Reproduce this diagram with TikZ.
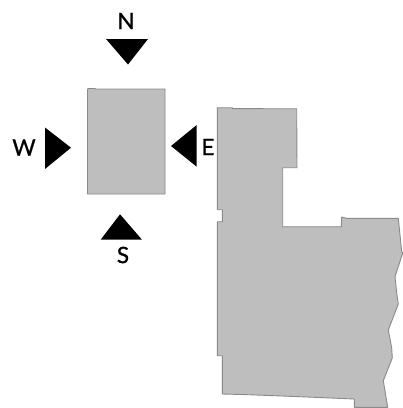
\documentclass[tikz,border=0pt]{standalone}
\usepackage{fontspec}
\newfontfamily\compassfont[FakeBold=1.0]{Lato}
\definecolor{plan}{HTML}{BEBEBE}
\definecolor{planedge}{HTML}{8A8A8A}
\tikzset{
  planshape/.style={fill=plan,draw=planedge,line width=0.9pt,line join=round},
  pointer/.style={fill=black,draw=none},
  compass/.style={inner sep=0pt,font=\compassfont\fontsize{22.5}{22.5}\selectfont,text=black}
}
\begin{document}
\begin{tikzpicture}[x=1pt,y=-1pt]
\useasboundingbox (0,0) rectangle (403,408);
\fill[white] (0,0) rectangle (403,408);
% small building
\draw[planshape] (87.5,90) -- (88,88.5) -- (95,88.5) -- (95.5,89) -- (165,89) -- (165,194) -- (87.5,194) -- cycle;
% large building
\draw[planshape] (217.3,107.7) -- (232.3,107.8) -- (232.5,108.6) -- (296.7,108.8) -- (297,167.7) -- (282.7,167.7) -- (282.7,226.7) -- (341.3,226.7)
  -- (341.7,217) -- (346.7,218.3) -- (398.3,218.3) -- (401.7,251.7) -- (402.7,253) -- (395,276.7) -- (396.7,293) -- (398.3,304)
  -- (388.3,330) -- (391.7,348) -- (392.3,358) -- (383.3,380.7) -- (387.7,407.3) -- (354.3,407.3) -- (354.3,399) -- (300,396.7)
  -- (248.3,394.7) -- (222.3,394) -- (222.3,355.7) -- (217.3,355.7) -- (217.3,221.7) -- (222.3,221.7) -- (222.3,209.7) -- (217.3,209.7) -- cycle;
% pointers
\fill[pointer] (106,39) -- (148,39) -- (128,64.5) -- cycle;
\fill[pointer] (45,127.5) -- (45,169) -- (71,147.7) -- cycle;
\fill[pointer] (196.7,125) -- (196.7,166.7) -- (171,146) -- cycle;
\fill[pointer] (120,214.3) -- (100.7,239.7) -- (142,239.7) -- cycle;
% labels
\node[compass] (n) at (126,21) {N};
\node[compass] (w) at (24,147.5) {W};
\node[compass] (e) at (208,147) {E};
\node[compass] (s) at (123,255) {S};
\end{tikzpicture}
\end{document}
